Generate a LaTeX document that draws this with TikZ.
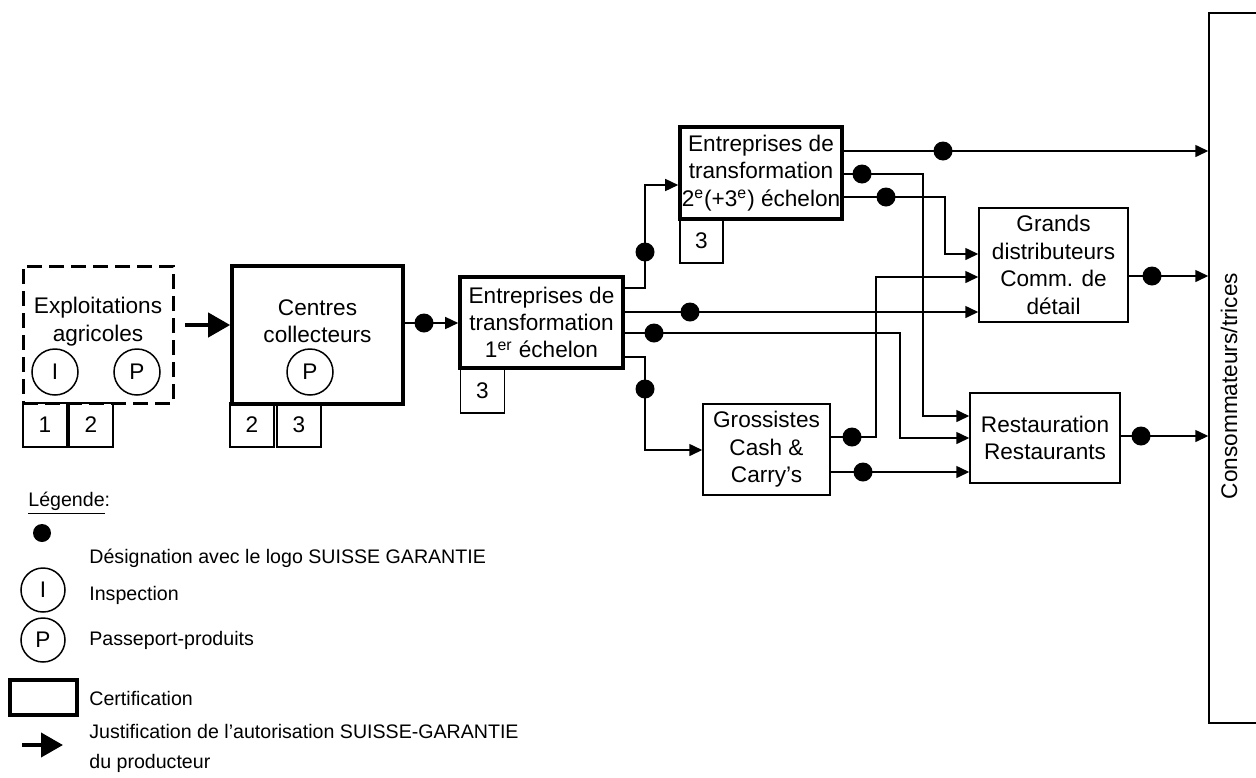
\documentclass[tikz,border=0pt]{standalone}
\usepackage{fontspec}
\setmainfont{Liberation Sans}
\usetikzlibrary{arrows.meta}
\newcommand{\ordre}[1]{\textsuperscript{#1}}

\begin{document}
\begin{tikzpicture}[x=0.5pt,y=-0.5pt,>={Triangle[length=6.5pt,width=6pt]},
	font=\fontsize{11.3}{13.7}\selectfont,
	box/.style={draw,line width=0.75pt,align=center,inner sep=0pt},
	certbox/.style={box,line width=1.8pt},
	farmbox/.style={box,line width=1.5pt,dash pattern=on 7.5pt off 3.5pt},
	numbox/.style={box,minimum size=22pt},
	sigle/.style={draw,circle,line width=0.75pt,minimum size=23pt,inner sep=0pt},
	sgdot/.style={circle,fill,inner sep=0pt,minimum size=9.5pt},
	flow/.style={->,line width=0.75pt},
	bigarrow/.style={-{Triangle[length=11pt,width=12pt]},line width=2pt},
	legtext/.style={anchor=west,align=left,inner sep=0pt,font=\fontsize{9.8}{15}\selectfont}
]

\useasboundingbox (0,0) rectangle (1256,777);

% Exploitations
\node[farmbox,minimum width=75pt,minimum height=68.5pt] (farm) at (98,334.5) {};
\node[align=center] (farmtxt) at (98,321.5) {Exploitations\\agricoles};
\node[sigle] (farmI) at (55,372) {I};
\node[sigle] (farmP) at (137,372) {P};
\node[numbox] (farmA) at (45,425) {1};
\node[numbox] (farmB) at (91,425) {2};

% Centres collecteurs
\node[certbox,minimum width=85.5pt,minimum height=69pt] (centres) at (317.5,335) {};
\node[align=center] (centrestxt) at (317.5,321) {Centres\\collecteurs};
\node[sigle] (centresP) at (310,372) {P};
\node[numbox] (centresA) at (252,425) {2};
\node[numbox] (centresB) at (299,425) {3};

% Transformation
\node[certbox,minimum width=81.5pt,minimum height=45.5pt] (e1) at (541.5,322.5)
	{Entreprises de\\transformation\\1\ordre{er} échelon};
\node[numbox,minimum height=22.5pt] (e1A) at (482.5,390.5) {3};
\node[certbox,minimum width=81pt,minimum height=46pt] (e2) at (761,173)
	{Entreprises de\\transformation\\2\ordre{e}(+3\ordre{e}) échelon};
\node[numbox,minimum width=21.5pt] (e2A) at (701.5,241) {3};

% Distribution
\node[box,minimum width=74.5pt,minimum height=57pt] (grands) at (1053.5,265)
	{Grands\\distributeurs\\Comm. de\\détail};
\node[box,minimum width=63.5pt,minimum height=45.5pt] (gross) at (766.5,449.5)
	{Grossistes\\Cash \&\\Carry’s};
\node[box,minimum width=75pt,minimum height=45pt] (resto) at (1045,438)
	{Restauration\\Restaurants};
\node[box,minimum width=27pt,minimum height=355pt] (cons) at (1236,368) {};
\node[rotate=90] (constxt) at (1229,386) {Consommateurs/trices};

% Flows
\coordinate (farmout) at (185,325);
\draw[bigarrow] (farmout) -- (centres.west |- farmout);
\draw[flow] (centres.east |- 0,323) -- (e1.west |- 0,323);

\draw[flow] (e1.east |- 0,288) -| (645,185) -- (e2.west |- 0,185);
\draw[flow] (e1.east |- 0,312) -- (grands.west |- 0,312);
\draw[flow] (e1.east |- 0,333) -| (900,438) -- (resto.west |- 0,438);
\draw[flow] (e1.east |- 0,357) -| (645,450) -- (gross.west |- 0,450);

\draw[flow] (e2.east |- 0,151) -- (cons.west |- 0,151);
\draw[flow] (e2.east |- 0,174) -| (923,416) -- (resto.west |- 0,416);
\draw[flow] (e2.east |- 0,197) -| (945,254) -- (grands.west |- 0,254);

\draw[flow] (gross.east |- 0,437) -| (876,277) -- (grands.west |- 0,277);
\draw[flow] (gross.east |- 0,472) -- (resto.west |- 0,472);

\draw[flow] (grands.east |- 0,276) -- (cons.west |- 0,276);
\draw[flow] (resto.east |- 0,436) -- (cons.west |- 0,436);

% Logo marks
\foreach \D/\X/\Y in {dA/424/323, dB/645/252, dC/690/312, dD/654/333, dE/645/389,
	dF/943/151, dG/862/174, dH/886/197, dI/852/437, dJ/863/472, dK/1152/276, dL/1141/436}
	\node[sgdot] (\D) at (\X,\Y) {};

% Legende
\node[legtext] (legtitle) at (28,503) {\underline{Légende}:};
\node[sgdot,minimum size=9pt] (legdot) at (42,533) {};
\node[legtext] (legdottxt) at (89,558) {Désignation avec le logo SUISSE GARANTIE};
\node[sigle,minimum size=22pt] (legI) at (43,590) {I};
\node[legtext] (legItxt) at (89,595) {Inspection};
\node[sigle,minimum size=22pt] (legP) at (43,640) {P};
\node[legtext] (legPtxt) at (89,640) {Passeport-produits};
\node[certbox,minimum width=33.5pt,minimum height=17.5pt] (legcert) at (43.5,697.5) {};
\node[legtext] (legcerttxt) at (89,698) {Certification};
\coordinate (legarrA) at (22,745);
\coordinate (legarrB) at (63,745);
\draw[bigarrow] (legarrA) -- (legarrB);
\node[legtext] (legarrtxt) at (89,748) {Justification de l’autorisation SUISSE-GARANTIE\\du producteur};

\end{tikzpicture}
\end{document}
